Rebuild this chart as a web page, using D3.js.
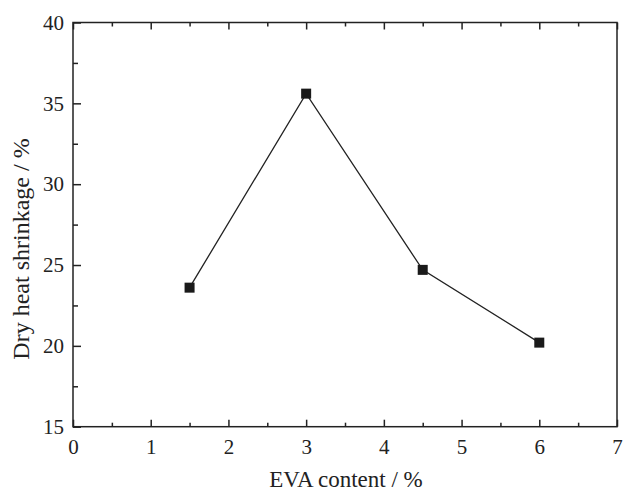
<!DOCTYPE html>
<html>
<head>
<meta charset="utf-8">
<script src="https://cdn.jsdelivr.net/npm/d3@7"></script>
<style>
  body { margin: 0; background: #fff; }
  text { font-family: "Liberation Serif", "Times New Roman", serif; fill: #222; }
</style>
</head>
<body>
<svg id="chart" width="623" height="491"></svg>
<script>
var evaContent = [1.5, 3, 4.5, 6];
var shrinkage = [23.6, 35.6, 24.7, 20.2];
var xTicks = [0, 1, 2, 3, 4, 5, 6, 7];
var yTicks = [15, 20, 25, 30, 35, 40];

var svg = d3.select("#chart"),
    plotLeft = 73, plotRight = 617, plotTop = 22.5, plotBottom = 426.7,
    ink = "#222";

var x = d3.scaleLinear().domain([0, 7]).range([plotLeft, plotRight]);
var y = d3.scaleLinear().domain([15, 40]).range([plotBottom, plotTop]);

// frame
svg.append("rect")
    .attr("x", plotLeft).attr("y", plotTop)
    .attr("width", plotRight - plotLeft).attr("height", plotBottom - plotTop)
    .attr("fill", "none").attr("stroke", ink).attr("stroke-width", 1.5);

// bottom axis, ticks inward
svg.append("g").attr("transform", "translate(0," + plotBottom + ")")
    .call(d3.axisBottom(x).tickValues(xTicks).tickSize(-7).tickPadding(12).tickFormat(d3.format("d")));
svg.append("g").attr("transform", "translate(0," + plotBottom + ")")
    .call(d3.axisBottom(x).tickValues(d3.range(0.5, 7, 1)).tickSize(-4).tickFormat(""));

// top ticks
svg.append("g").attr("transform", "translate(0," + plotTop + ")")
    .call(d3.axisTop(x).tickValues(xTicks).tickSize(-7).tickFormat(""));
svg.append("g").attr("transform", "translate(0," + plotTop + ")")
    .call(d3.axisTop(x).tickValues(d3.range(0.5, 7, 1)).tickSize(-4).tickFormat(""));

// left axis
svg.append("g").attr("transform", "translate(" + plotLeft + ",0)")
    .call(d3.axisLeft(y).tickValues(yTicks).tickSize(-8).tickPadding(9));
svg.append("g").attr("transform", "translate(" + plotLeft + ",0)")
    .call(d3.axisLeft(y).tickValues(d3.range(17.5, 40, 5)).tickSize(-5).tickFormat(""));

svg.selectAll(".domain").remove();
svg.selectAll(".tick line").attr("stroke", ink).attr("stroke-width", 1.5);
svg.selectAll(".tick text").style("font-size", "21px").attr("fill", ink)
    .style("font-family", "'Liberation Serif', serif");

// line + markers
var line = d3.line().x(function(d, i){ return x(evaContent[i]); })
                    .y(function(d){ return y(d); });

svg.append("path")
    .datum(shrinkage)
    .attr("d", line)
    .attr("fill", "none")
    .attr("stroke", ink)
    .attr("stroke-width", 1.3);

svg.selectAll("rect.pt")
    .data(shrinkage)
    .enter().append("rect")
    .attr("class", "pt")
    .attr("x", function(d, i){ return x(evaContent[i]) - 5; })
    .attr("y", function(d){ return y(d) - 5; })
    .attr("width", 10).attr("height", 10)
    .attr("fill", "#1a1a1a");

// axis titles
svg.append("text")
    .attr("x", 346).attr("y", 487)
    .attr("text-anchor", "middle")
    .style("font-size", "23px")
    .text("EVA content / %");

svg.append("text")
    .attr("transform", "translate(29,249) rotate(-90)")
    .attr("text-anchor", "middle")
    .style("font-size", "24px")
    .text("Dry heat shrinkage / %");
</script>
</body>
</html>
